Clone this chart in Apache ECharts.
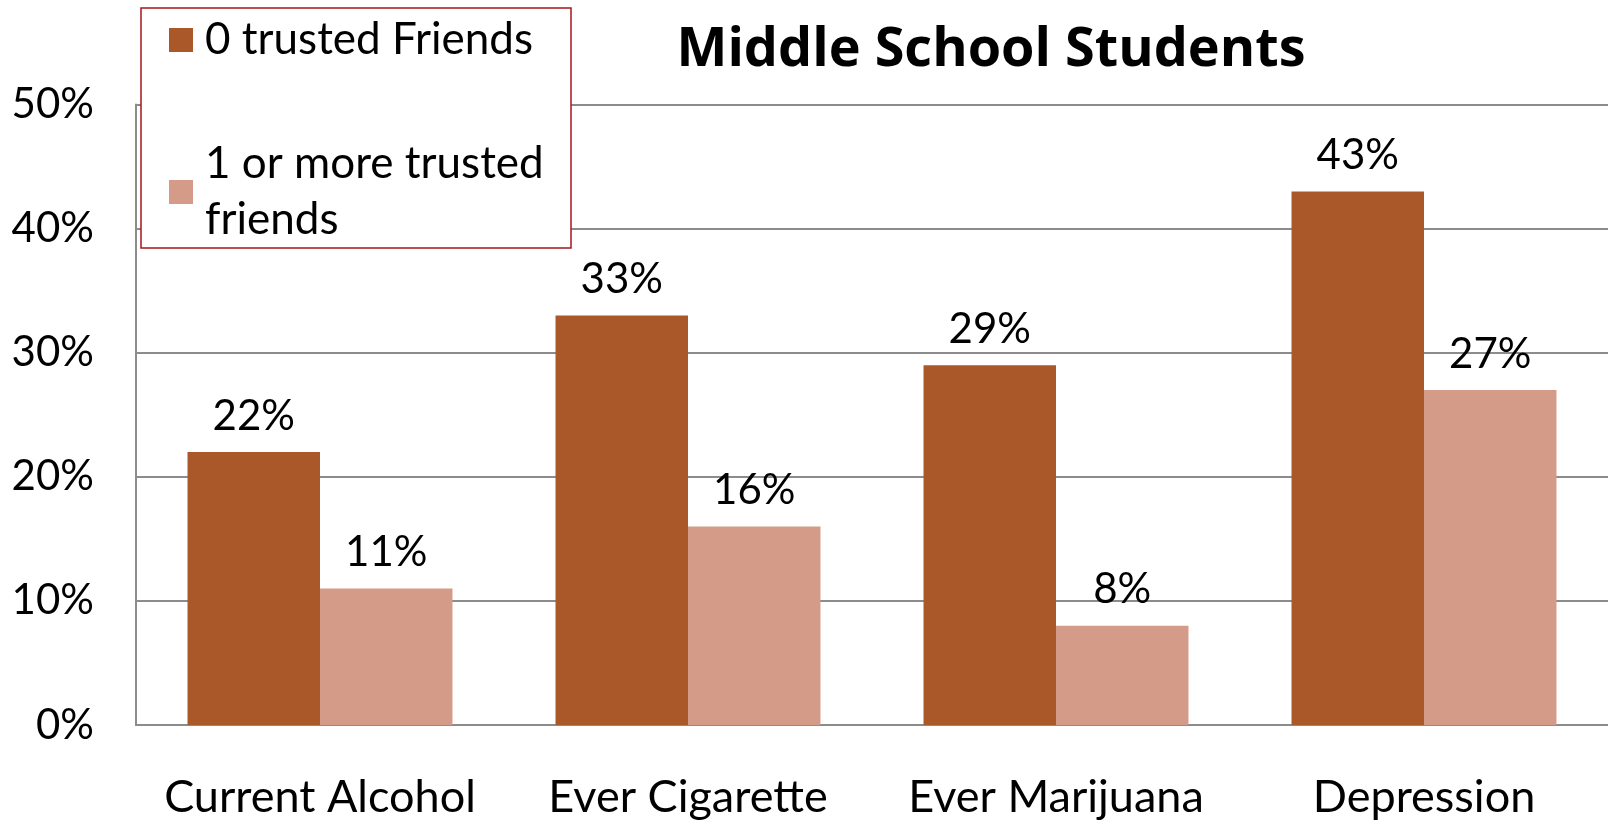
<!DOCTYPE html>
<html>
<head>
<meta charset="utf-8">
<style>
  html, body { margin: 0; padding: 0; background: #ffffff; }
  #chart { width: 1608px; height: 822px; }
</style>
<script src="https://cdn.jsdelivr.net/npm/echarts@6/dist/echarts.min.js"></script>
</head>
<body>
<div id="chart"></div>
<script>
// Risk behaviours of middle school students by number of trusted friends
const categories = ['Current Alcohol', 'Ever Cigarette', 'Ever Marijuana', 'Depression'];
const zeroFriends = [22, 33, 29, 43];
const oneOrMoreFriends = [11, 16, 8, 27];
const yTicks = [0, 10, 20, 30, 40, 50];

const FONT = 'Lato, "Open Sans", sans-serif';
const chart = echarts.init(document.getElementById('chart'));

const labelStyle = {
  show: true,
  position: 'top',
  distance: 15,
  color: '#000',
  fontFamily: FONT,
  fontSize: 42,
  formatter: '{c}%'
};

chart.setOption({
  animation: false,
  title: {
    text: 'Middle School Students',
    left: 986,
    textAlign: 'center',
    top: 16,
    textStyle: { fontFamily: '"Open Sans", Lato, sans-serif', fontSize: 54, lineHeight: 60, fontWeight: 'bold', color: '#000' }
  },
  // opaque frame behind the legend, covering the grid lines
  graphic: [{
    type: 'rect',
    shape: { x: 141, y: 8, width: 430, height: 240 },
    style: { fill: '#fff', stroke: '#a3171c', lineWidth: 1.5 },
    z: 6
  }],
  legend: {
    orient: 'vertical',
    left: 141,
    top: 8,
    padding: [4, 12, 4, 28],
    itemWidth: 24,
    itemHeight: 24,
    itemGap: 12,
    icon: 'rect',
    z: 10,
    textStyle: { fontFamily: FONT, fontSize: 44, color: '#000', lineHeight: 56, padding: [0, 0, 0, 7] },
    data: [
      { name: '0 trusted Friends' },
      { name: '1 or more trusted\nfriends', textStyle: { padding: [112, 0, 0, 7] } }
    ]
  },
  grid: { left: 136, right: 0, top: 104.6, bottom: 97, containLabel: false },
  xAxis: {
    type: 'category',
    data: categories,
    axisLine: { show: true, lineStyle: { color: '#8c8c8c', width: 2 } },
    axisTick: { show: false },
    axisLabel: { interval: 0, margin: 50, color: '#000', fontFamily: FONT, fontSize: 45 }
  },
  yAxis: {
    type: 'value',
    min: yTicks[0],
    max: yTicks[yTicks.length - 1],
    interval: 10,
    axisLine: { show: true, lineStyle: { color: '#8c8c8c', width: 2 } },
    axisTick: { show: false },
    splitLine: { lineStyle: { color: '#8c8c8c', width: 2 } },
    axisLabel: { margin: 42, color: '#000', fontFamily: FONT, fontSize: 42, formatter: '{value}%' }
  },
  series: [
    {
      name: '0 trusted Friends',
      type: 'bar',
      data: zeroFriends,
      barGap: '0%',
      barCategoryGap: '28%',
      itemStyle: { color: '#aa5829' },
      label: labelStyle
    },
    {
      name: '1 or more trusted\nfriends',
      type: 'bar',
      data: oneOrMoreFriends,
      itemStyle: { color: '#d49b88' },
      label: labelStyle
    }
  ]
});
</script>
</body>
</html>
